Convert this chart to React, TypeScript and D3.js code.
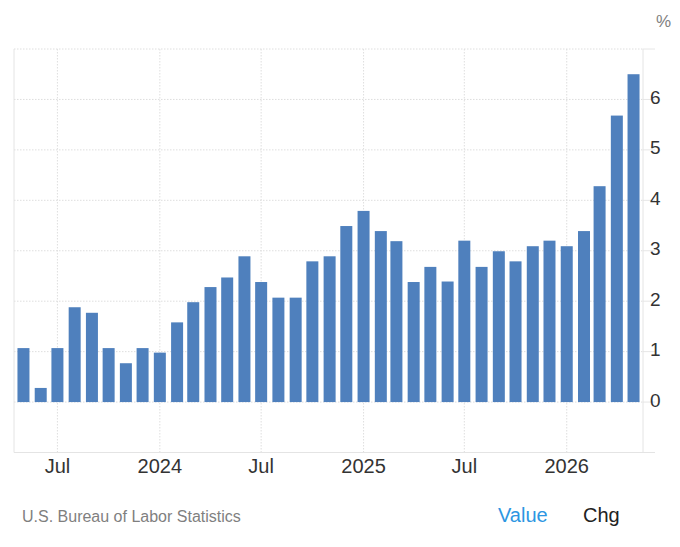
import React from "react";
import * as d3 from "d3";

const months: string[] = [
  "2023-05", "2023-06", "2023-07", "2023-08", "2023-09", "2023-10", "2023-11", "2023-12",
  "2024-01", "2024-02", "2024-03", "2024-04", "2024-05", "2024-06", "2024-07", "2024-08",
  "2024-09", "2024-10", "2024-11", "2024-12", "2025-01", "2025-02", "2025-03", "2025-04",
  "2025-05", "2025-06", "2025-07", "2025-08", "2025-09", "2025-10", "2025-11", "2025-12",
  "2026-01", "2026-02", "2026-03", "2026-04", "2026-05",
];
const values: number[] = [
  1.07, 0.28, 1.07, 1.88, 1.77, 1.07, 0.77, 1.07,
  0.98, 1.58, 1.98, 2.28, 2.47, 2.89, 2.38, 2.07,
  2.07, 2.79, 2.89, 3.49, 3.79, 3.39, 3.19, 2.38,
  2.68, 2.39, 3.2, 2.68, 2.99, 2.79, 3.09, 3.2,
  3.09, 3.39, 4.28, 5.68, 6.5,
];
const xTickDates: string[] = ["2023-07-01", "2024-01-01", "2024-07-01", "2025-01-01", "2025-07-01", "2026-01-01"];
const xTickLabels: string[] = ["Jul", "2024", "Jul", "2025", "Jul", "2026"];
const yTicks: number[] = [0, 1, 2, 3, 4, 5, 6];
const yGrid: number[] = [0, 1, 2, 3, 4, 5, 6, 7];

const W = 680;
const H = 547;
const left = 14;
const right = 643;
const top = 49;
const bottom = 452.5;
const font = "'Liberation Sans', Arial, sans-serif";

export default function App() {
  const parse = d3.timeParse("%Y-%m-%d");
  const x = d3
    .scaleTime()
    .domain([parse("2023-04-14") as Date, parse("2026-05-18") as Date])
    .range([left, right]);
  const y = d3.scaleLinear().domain([-1, 7]).range([bottom, top]);
  const barW = 12;

  return (
    <div style={{ position: "absolute", left: 0, top: 0 }}>
      <svg width={W} height={H} style={{ display: "block", fontFamily: font }}>
        <rect x={0} y={0} width={W} height={H} fill="#fff" />
        {yGrid.map((v) => (
          <g key={"h" + v}>
            <line x1={left} x2={right} y1={y(v)} y2={y(v)} stroke="#dedede" strokeDasharray="1.5,1.5" />
            <line x1={right} x2={655} y1={y(v)} y2={y(v)} stroke="#e6e6e6" />
          </g>
        ))}
        {xTickDates.map((d) => {
          const xx = x(parse(d) as Date);
          return (
            <line key={"v" + d} x1={xx} x2={xx} y1={top} y2={bottom} stroke="#dedede" strokeDasharray="1.5,1.5" />
          );
        })}
        <line x1={left} x2={left} y1={top} y2={bottom} stroke="#e4e4e4" />
        <line x1={right} x2={right} y1={top} y2={bottom} stroke="#e4e4e4" />
        <line x1={left} x2={655} y1={bottom} y2={bottom} stroke="#e4e4e4" />
        {months.map((m, i) => {
          const cx = x(parse(m + "-01") as Date);
          const v = values[i];
          const y0 = y(0);
          const y1 = y(v);
          return (
            <rect
              key={m}
              x={cx - barW / 2}
              y={Math.min(y0, y1)}
              width={barW}
              height={Math.abs(y0 - y1)}
              fill="#4f80bd"
            />
          );
        })}
        {yTicks.map((v) => (
          <text key={"yl" + v} x={650} y={y(v) + 4.5} fontSize={19} fill="#333">
            {v}
          </text>
        ))}
        <text x={656} y={27} fontSize={17} fill="#808080">%</text>
        {xTickDates.map((d, i) => (
          <text
            key={"xl" + d}
            x={x(parse(d) as Date)}
            y={472.5}
            fontSize={20}
            fill="#333"
            textAnchor="middle"
          >
            {xTickLabels[i]}
          </text>
        ))}
        <text x={22} y={521.5} fontSize={16} fill="#7f7f7f">U.S. Bureau of Labor Statistics</text>
        <text x={498} y={522} fontSize={20} fill="#2d96e2">Value</text>
        <text x={583} y={522} fontSize={20} fill="#222">Chg</text>
      </svg>
    </div>
  );
}
